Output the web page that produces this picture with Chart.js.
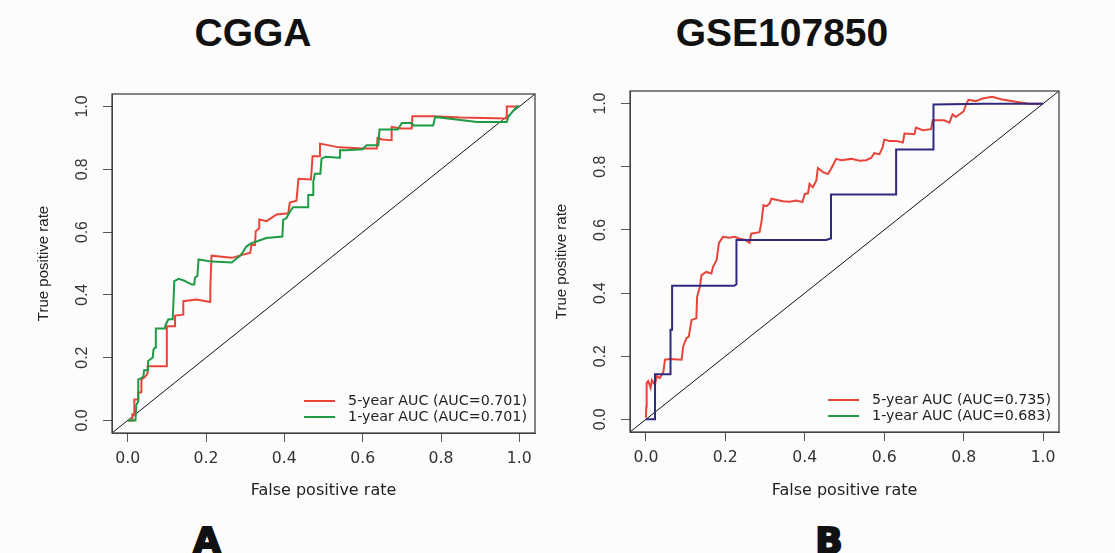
<!DOCTYPE html>
<html><head><meta charset="utf-8">
<script src="https://cdn.jsdelivr.net/npm/chart.js@4"></script>
<style>
html,body{margin:0;padding:0;background:#fcfcfc;width:1115px;height:553px;overflow:hidden;position:relative}
canvas{position:absolute;top:0}
.title{position:absolute;top:13px;font:bold 39px/1 'Liberation Sans',Arial,sans-serif;color:#111;transform:translateX(-50%);white-space:nowrap}
.tag{position:absolute;top:523px;font:bold 36px/1 'DejaVu Sans',sans-serif;color:#111;-webkit-text-stroke:2px #111;transform:translateX(-50%)}
</style></head><body>
<div class="title" style="left:253px">CGGA</div>
<div class="title" style="left:782px">GSE107850</div>
<div class="tag" style="left:207px">A</div>
<div class="tag" style="left:829px">B</div>
<canvas id="c1" width="545" height="553" style="left:0"></canvas>
<canvas id="c2" width="570" height="553" style="left:545px"></canvas>
<script>
// ---- data ----
const tickValues = [0, 0.2, 0.4, 0.6, 0.8, 1.0];
const diagX = [-0.04, 1.04];
const diagY = [-0.04, 1.04];
const xTitle = 'False positive rate';
const yTitle = 'True positive rate';

// CGGA 5-year
const cggaFpr5 = [0,0.012,0.012,0.017,0.017,0.027,0.027,0.035,0.035,0.045,0.051,0.051,0.100,0.100,0.121,0.121,0.142,0.142,0.176,0.211,0.211,0.214,0.266,0.286,0.313,0.316,0.325,0.327,0.336,0.336,0.355,0.380,0.410,0.414,0.431,0.436,0.468,0.472,0.491,0.491,0.540,0.600,0.636,0.638,0.650,0.674,0.674,0.700,0.725,0.727,0.781,0.850,0.968,0.968,1.0];
const cggaTpr5 = [0,0,0.020,0.020,0.067,0.067,0.088,0.090,0.130,0.140,0.150,0.173,0.173,0.300,0.300,0.334,0.337,0.380,0.385,0.377,0.417,0.525,0.518,0.525,0.534,0.559,0.559,0.603,0.612,0.640,0.635,0.656,0.660,0.694,0.700,0.770,0.768,0.842,0.842,0.882,0.870,0.866,0.866,0.900,0.895,0.893,0.935,0.930,0.930,0.969,0.969,0.965,0.962,1.0,1.0];
// CGGA 1-year
const cggaFpr1 = [0,0.020,0.022,0.027,0.027,0.035,0.040,0.042,0.052,0.052,0.058,0.064,0.066,0.070,0.072,0.095,0.097,0.104,0.115,0.117,0.119,0.130,0.145,0.164,0.170,0.172,0.178,0.181,0.215,0.266,0.280,0.286,0.295,0.303,0.316,0.329,0.354,0.395,0.397,0.405,0.414,0.422,0.461,0.461,0.474,0.474,0.478,0.492,0.495,0.505,0.540,0.542,0.560,0.600,0.610,0.640,0.643,0.690,0.700,0.725,0.730,0.780,0.785,0.892,0.968,0.972,0.980,0.994,1.0];
const cggaTpr1 = [0,0,0.050,0.060,0.131,0.135,0.140,0.160,0.160,0.189,0.195,0.200,0.226,0.232,0.293,0.293,0.305,0.322,0.322,0.380,0.444,0.451,0.445,0.433,0.433,0.455,0.460,0.513,0.506,0.503,0.518,0.523,0.538,0.554,0.565,0.570,0.581,0.586,0.639,0.644,0.665,0.679,0.679,0.718,0.718,0.760,0.786,0.786,0.834,0.840,0.837,0.861,0.861,0.864,0.877,0.877,0.927,0.927,0.948,0.948,0.940,0.940,0.967,0.951,0.951,0.967,0.980,1.0,1.0];
const cggaLabels = ['5-year AUC (AUC=0.701)', '1-year AUC (AUC=0.701)'];

// GSE107850 5-year
const gseFpr5 = [0.000,0.001,0.002,0.006,0.012,0.015,0.020,0.023,0.027,0.035,0.044,0.048,0.060,0.090,0.094,0.102,0.108,0.115,0.127,0.129,0.136,0.140,0.152,0.165,0.169,0.178,0.184,0.194,0.210,0.224,0.236,0.249,0.261,0.265,0.286,0.291,0.296,0.304,0.312,0.316,0.345,0.362,0.379,0.394,0.400,0.408,0.412,0.420,0.429,0.433,0.446,0.458,0.466,0.479,0.492,0.517,0.538,0.554,0.567,0.575,0.588,0.596,0.600,0.613,0.630,0.647,0.651,0.676,0.680,0.697,0.718,0.722,0.751,0.764,0.772,0.780,0.792,0.800,0.805,0.812,0.830,0.848,0.872,0.894,0.931,0.965,1.000];
const gseTpr5 = [0.005,0.040,0.116,0.121,0.100,0.124,0.115,0.110,0.137,0.131,0.150,0.189,0.191,0.189,0.231,0.257,0.262,0.315,0.320,0.389,0.420,0.457,0.467,0.462,0.483,0.504,0.559,0.578,0.575,0.578,0.572,0.569,0.559,0.588,0.593,0.625,0.678,0.675,0.685,0.699,0.691,0.689,0.693,0.688,0.714,0.716,0.746,0.735,0.756,0.796,0.783,0.777,0.793,0.825,0.821,0.825,0.819,0.821,0.828,0.843,0.840,0.861,0.886,0.882,0.882,0.877,0.905,0.903,0.924,0.916,0.919,0.947,0.947,0.940,0.966,0.958,0.968,0.976,0.994,1.012,1.008,1.016,1.022,1.014,1.006,1.000,1.000];
// GSE107850 1-year
const gseFpr1 = [0,0.023,0.023,0.062,0.062,0.066,0.066,0.222,0.228,0.228,0.454,0.464,0.466,0.630,0.630,0.724,0.724,0.850,1.0];
const gseTpr1 = [0,0,0.143,0.143,0.284,0.284,0.423,0.423,0.428,0.568,0.568,0.573,0.712,0.712,0.855,0.855,0.997,1.0,1.0];
const gseLabels = ['5-year AUC (AUC=0.735)', '1-year AUC (AUC=0.683)'];

const RED = '#e8443a', GREEN = '#1f9a45', NAVY = '#2e2a80';
const legendColors = [RED, GREEN];

// ---- helpers ----
const pts = (xs, ys) => xs.map((x, i) => ({x: x, y: ys[i]}));

const boxPlugin = {
  id: 'box',
  afterDraw(chart) {
    const {ctx, chartArea: a} = chart;
    ctx.save();
    ctx.strokeStyle = '#444';
    ctx.lineWidth = 1.3;
    ctx.strokeRect(a.left, a.top, a.right - a.left, a.bottom - a.top);
    ctx.restore();
  }
};

const legendPlugin = {
  id: 'rocLegend',
  afterDatasetsDraw(chart, args, opts) {
    const {ctx, chartArea: a} = chart;
    ctx.save();
    ctx.font = '14.25px "DejaVu Sans"';
    const labels = opts.labels;
    const w = Math.max(...labels.map(t => ctx.measureText(t).width));
    const tx = a.right - 8 - w;
    labels.forEach((t, i) => {
      const y = a.bottom - 32 + 16 * i;
      ctx.strokeStyle = opts.colors[i];
      ctx.lineWidth = 2;
      ctx.beginPath(); ctx.moveTo(tx - 44, y); ctx.lineTo(tx - 13, y); ctx.stroke();
      ctx.fillStyle = '#222';
      ctx.textBaseline = 'middle';
      ctx.textAlign = 'left';
      ctx.fillText(t, tx, y);
    });
    ctx.restore();
  }
};

function makeChart(id, series, labels, pad, yW, xH, yTitlePad) {
  const datasets = series.map((s, i) => ({
    label: labels[i],
    data: pts(s.x, s.y),
    borderColor: s.color,
    borderWidth: 2,
    pointRadius: 0,
    showLine: true,
    tension: 0,
    fill: false,
    order: s.order
  }));
  datasets.push({
    label: 'diag', data: pts(diagX, diagY), borderColor: '#111', borderWidth: 1,
    pointRadius: 0, showLine: true, fill: false, order: 5
  });
  return new Chart(document.getElementById(id), {
    type: 'scatter',
    data: {datasets},
    plugins: [boxPlugin, legendPlugin],
    options: {
      responsive: false, animation: false, events: [],
      layout: {padding: pad},
      plugins: {legend: {display: false}, tooltip: {enabled: false},
        rocLegend: {labels: labels, colors: legendColors}},
      scales: {
        x: {
          type: 'linear', min: -0.04, max: 1.04,
          afterBuildTicks: s => { s.ticks = tickValues.map(v => ({value: v})); },
          afterFit: s => { s.height = xH; },
          grid: {display: true, drawOnChartArea: false, drawTicks: true, tickLength: 9, color: '#555'},
          border: {display: true, color: '#444'},
          ticks: {color: '#333', padding: 8, maxRotation: 0, font: {family: 'DejaVu Sans', size: 15.7},
            callback: v => v.toFixed(1)},
          title: {display: true, text: xTitle, color: '#222', font: {family: 'DejaVu Sans', size: 16},
            padding: {top: 0, bottom: 52.4}}
        },
        y: {
          type: 'linear', min: -0.04, max: 1.04,
          afterBuildTicks: s => { s.ticks = tickValues.map(v => ({value: v})); },
          afterFit: s => { s.width = yW; },
          grid: {display: true, drawOnChartArea: false, drawTicks: true, tickLength: 9, color: '#555'},
          border: {display: true, color: '#444'},
          ticks: {color: '#333', padding: 9, minRotation: 90, maxRotation: 90, crossAlign: 'center',
            font: {family: 'Liberation Sans', size: 15.8}, callback: v => v.toFixed(1)},
          title: {display: true, text: yTitle, color: '#222', font: {family: 'Liberation Sans', size: 15},
            padding: {top: yTitlePad, bottom: 0}}
        }
      }
    }
  });
}

makeChart('c1', [
  {x: cggaFpr5, y: cggaTpr5, color: RED, order: 2},
  {x: cggaFpr1, y: cggaTpr1, color: GREEN, order: 1}
], cggaLabels, {left: 0, top: 94, right: 10, bottom: 0}, 112, 120, 35);

makeChart('c2', [
  {x: gseFpr5, y: gseTpr5, color: RED, order: 2},
  {x: gseFpr1, y: gseTpr1, color: NAVY, order: 1}
], gseLabels, {left: 0, top: 91, right: 56, bottom: 0}, 85, 121, 8);
</script>
</body></html>
